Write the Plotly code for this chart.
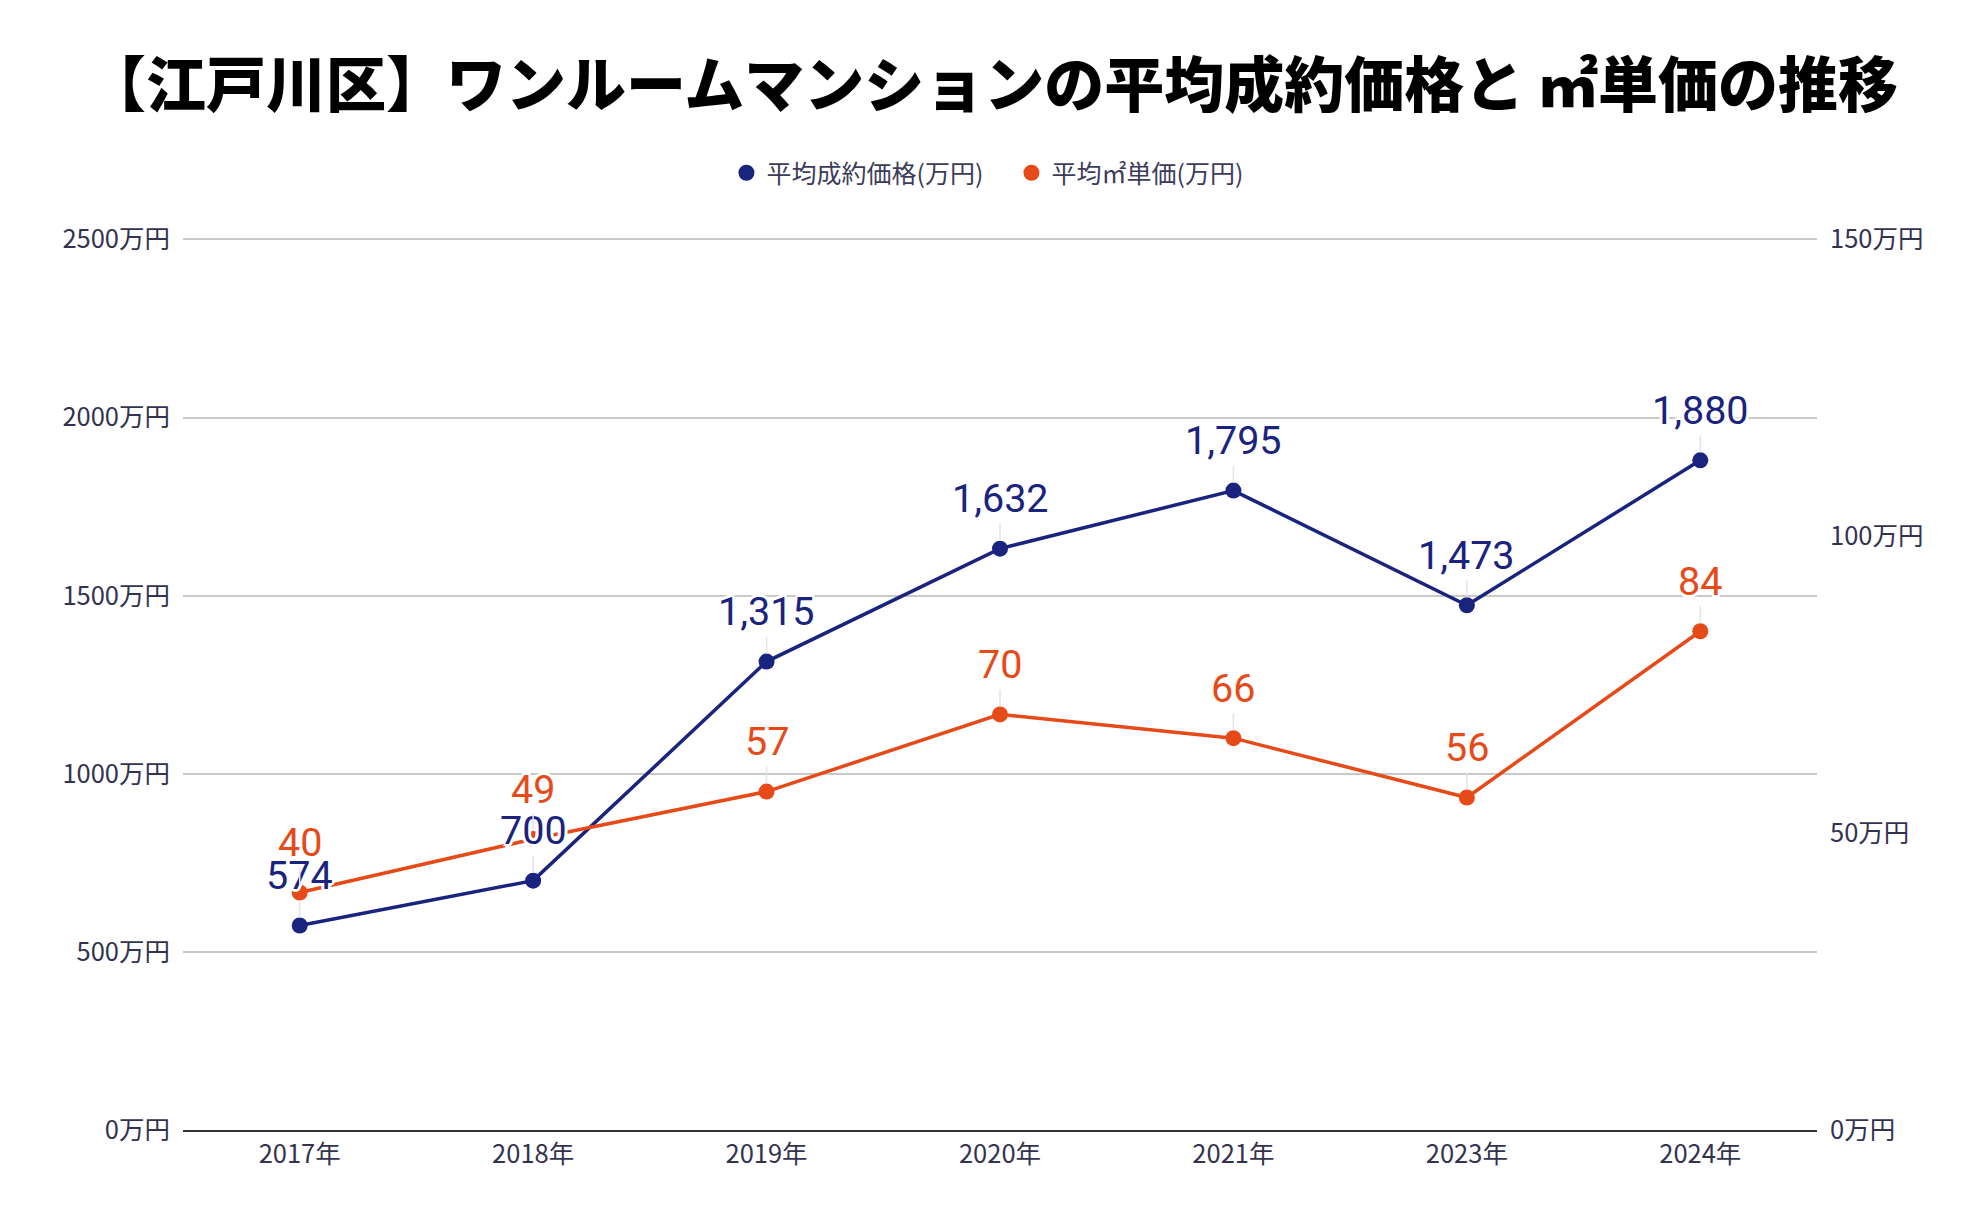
import plotly.graph_objects as go

years = ["2017年", "2018年", "2019年", "2020年", "2021年", "2023年", "2024年"]
avg_price = [574, 700, 1315, 1632, 1795, 1473, 1880]
unit_price = [40, 49, 57, 70, 66, 56, 84]

left_ticks = [0, 500, 1000, 1500, 2000, 2500]
right_ticks = [0, 50, 100, 150]

name_price = "平均成約価格(万円)"
name_unit = "平均㎡単価(万円)"
title_text = "【江戸川区】ワンルームマンションの平均成約価格と ㎡単価の推移"

NAVY = "#1a237e"
ORANGE = "#e64a19"
TICK_COLOR = "#33334f"

fig = go.Figure()

fig.add_trace(go.Scatter(
    x=years, y=avg_price, mode="lines+markers", name=name_price,
    line=dict(color=NAVY, width=3.5), marker=dict(color=NAVY, size=16),
    showlegend=False, yaxis="y", cliponaxis=False,
))
fig.add_trace(go.Scatter(
    x=years, y=unit_price, mode="lines+markers", name=name_unit,
    line=dict(color=ORANGE, width=3.5), marker=dict(color=ORANGE, size=16),
    showlegend=False, yaxis="y2", cliponaxis=False,
))
# legend-only entries (circle markers)
fig.add_trace(go.Scatter(x=[None], y=[None], mode="markers", name=name_price,
                         marker=dict(color=NAVY, size=20)))
fig.add_trace(go.Scatter(x=[None], y=[None], mode="markers", name=name_unit,
                         marker=dict(color=ORANGE, size=20)))

shadow = ", ".join(f"{dx}px {dy}px 0 #ffffff" for dx, dy in
                   [(2, 2), (-2, -2), (2, -2), (-2, 2), (0, 2), (2, 0), (0, -2), (-2, 0),
                    (3, 0), (-3, 0), (0, 3), (0, -3)])

annotations = []
for series, yref, color in [(avg_price, "y", NAVY), (unit_price, "y2", ORANGE)]:
    for xv, yv in zip(years, series):
        annotations.append(dict(
            x=xv, y=yv, xref="x", yref=yref, text=f"{yv:,}",
            showarrow=True, arrowhead=0, arrowwidth=1.5, arrowcolor="#e4e4e4",
            ax=0, ay=-50, standoff=8,
            font=dict(family="Roboto", size=39.5, color=color, shadow=shadow),
        ))

fig.update_layout(
    width=1984, height=1228,
    paper_bgcolor="white", plot_bgcolor="white",
    margin=dict(l=183, r=167, t=238, b=98),
    title=dict(text=title_text, x=0.5, xanchor="center", y=1 - 86 / 1228, yanchor="middle",
               font=dict(family="Noto Sans CJK JP", size=60, color="#000000", weight=900)),
    legend=dict(orientation="h", x=0.507, xanchor="center", y=1 + 65 / 892, yanchor="middle",
                font=dict(family="Noto Sans CJK JP", size=25, color="#3c3c5a"),
                itemsizing="trace", entrywidthmode="pixels", entrywidth=240),
    xaxis=dict(type="category", categoryorder="array", categoryarray=years,
               range=[-0.5, len(years) - 0.5], showgrid=False,
               showline=True, linecolor="#333333", linewidth=2,
               ticks="", ticklabelstandoff=0,
               tickfont=dict(family="Noto Sans CJK JP", size=25.5, color=TICK_COLOR)),
    yaxis=dict(range=[0, 2504], tickvals=left_ticks, ticktext=[f"{v}万円" for v in left_ticks],
               showgrid=True, gridcolor="#c8c8c8", gridwidth=1.5, zeroline=False,
               showline=False, ticks="", ticklabelstandoff=12,
               tickfont=dict(family="Noto Sans CJK JP", size=25.5, color=TICK_COLOR)),
    yaxis2=dict(range=[0, 150.24], tickvals=right_ticks, ticktext=[f"{v}万円" for v in right_ticks],
                overlaying="y", side="right", showgrid=False, zeroline=False,
                showline=False, ticks="", ticklabelstandoff=12,
                tickfont=dict(family="Noto Sans CJK JP", size=25.5, color=TICK_COLOR)),
    annotations=annotations,
)

fig.write_html("out.html")
